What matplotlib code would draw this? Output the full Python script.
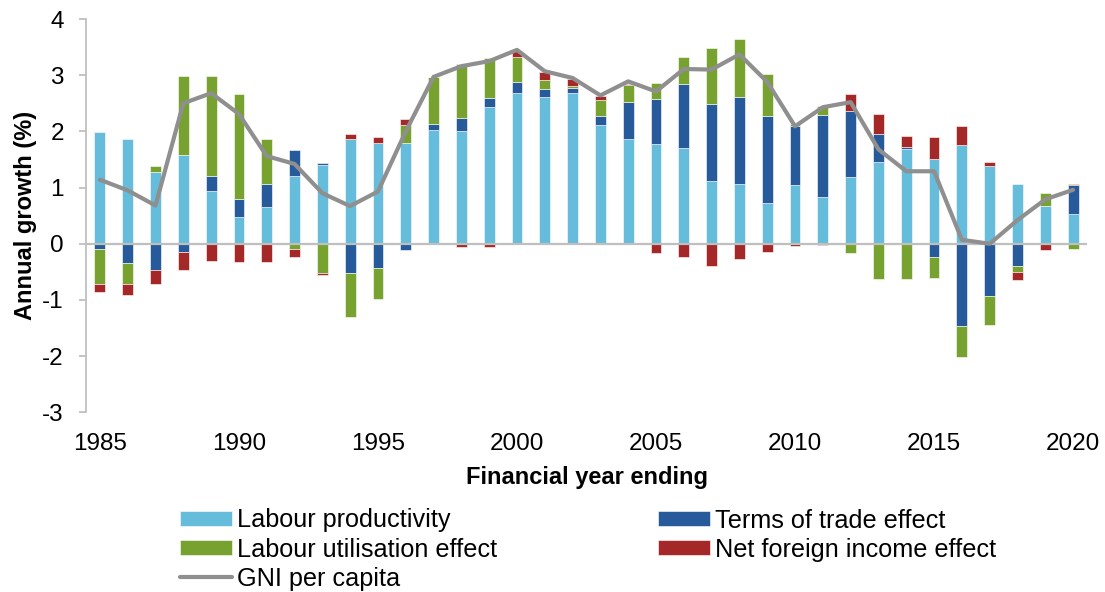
import numpy as np
import matplotlib
matplotlib.use('Agg')
import matplotlib.pyplot as plt

plt.rcParams['font.family'] = ['Liberation Sans', 'DejaVu Sans']
plt.rcParams['axes.unicode_minus'] = False

# Financial years
years = np.arange(1985, 2021)

# Contributions to GNI per capita growth (ppt)
labour_prod = [1.98, 1.87, 1.27, 1.58, 0.94, 0.48, 0.66, 1.20, 1.41, 1.86,
               1.80, 1.80, 2.02, 2.00, 2.44, 2.68, 2.62, 2.69, 2.12, 1.87,
               1.77, 1.70, 1.11, 1.06, 0.72, 1.05, 0.84, 1.18, 1.45, 1.68,
               1.51, 1.75, 1.38, 1.07, 0.68, 0.53]
terms_trade = [-0.09, -0.34, -0.46, -0.15, 0.26, 0.31, 0.40, 0.46, 0.03, -0.52,
               -0.43, -0.11, 0.11, 0.24, 0.15, 0.20, 0.14, 0.08, 0.15, 0.65,
               0.80, 1.14, 1.38, 1.55, 1.55, 1.04, 1.46, 1.19, 0.51, 0.04,
               -0.24, -1.47, -0.93, -0.40, 0.00, 0.52]
labour_util = [-0.63, -0.38, 0.12, 1.40, 1.78, 1.87, 0.81, -0.09, -0.52, -0.78,
               -0.55, 0.32, 0.83, 0.96, 0.71, 0.44, 0.15, 0.04, 0.29, 0.30,
               0.29, 0.49, 0.99, 1.03, 0.75, 0.05, 0.16, -0.17, -0.63, -0.62,
               -0.37, -0.55, -0.51, -0.10, 0.23, -0.10]
net_foreign = [-0.13, -0.20, -0.25, -0.32, -0.31, -0.33, -0.32, -0.15, -0.03, 0.10,
               0.10, 0.10, 0.00, -0.05, -0.05, 0.11, 0.14, 0.13, 0.07, 0.02,
               -0.17, -0.23, -0.39, -0.28, -0.14, -0.04, -0.02, 0.30, 0.35, 0.19,
               0.39, 0.34, 0.07, -0.15, -0.12, 0.01]
gni_pc = [1.14, 0.95, 0.68, 2.50, 2.68, 2.31, 1.56, 1.42, 0.90, 0.67,
          0.93, 2.00, 2.97, 3.16, 3.25, 3.45, 3.07, 2.95, 2.64, 2.89,
          2.71, 3.11, 3.10, 3.37, 2.88, 2.09, 2.43, 2.52, 1.68, 1.29,
          1.29, 0.07, 0.00, 0.42, 0.79, 0.96]

series = [
    ('Labour productivity', labour_prod, '#66BCDB'),
    ('Terms of trade effect', terms_trade, '#265A9B'),
    ('Labour utilisation effect', labour_util, '#78A22F'),
    ('Net foreign income effect', net_foreign, '#A52828'),
]

fig = plt.figure(figsize=(11.05, 5.92), dpi=100)
ax = fig.add_axes([86/1105, 1-412.3/592, 1001/1105, 393.3/592])

# stack positives up and negatives down, like excel does
pos = np.zeros(len(years))
neg = np.zeros(len(years))
bars = {}
for name, vals, col in series:
    v = np.array(vals)
    bottom = np.where(v >= 0, pos, neg)
    bars[name] = ax.bar(years, v, 0.39, bottom=bottom, color=col,
                        edgecolor='white', linewidth=0.4, zorder=2)
    pos = pos + np.clip(v, 0, None)
    neg = neg + np.clip(v, None, 0)

ax.axhline(0, color='#BFBFBF', lw=1.6, zorder=3)
line, = ax.plot(years, gni_pc, color='#8F8F8F', lw=3, zorder=4,
                solid_capstyle='round', solid_joinstyle='round')

ax.set_xlim(1984.5, 2020.5)
ax.set_ylim(-3, 4)
ax.set_yticks(range(-3, 5))
ax.set_xticks(range(1985, 2021, 5))
for s in ['top', 'right', 'bottom']:
    ax.spines[s].set_visible(False)
ax.spines['left'].set_color('#BFBFBF')
ax.spines['left'].set_linewidth(1.3)
ax.tick_params(axis='y', length=5, width=1.3, color='#BFBFBF',
               labelsize=17.5, pad=11)
ax.tick_params(axis='x', length=0, labelsize=17.5, pad=15)

ax.set_ylabel('Annual growth (%)', fontsize=17, fontweight='bold', labelpad=4)
ax.set_xlabel('Financial year ending', fontsize=17, fontweight='bold', labelpad=8)

handles = [bars['Labour productivity'], bars['Labour utilisation effect'], line,
           bars['Terms of trade effect'], bars['Net foreign income effect']]
labels = ['Labour productivity', 'Labour utilisation effect', 'GNI per capita',
          'Terms of trade effect', 'Net foreign income effect']
fig.legend(handles, labels, loc='upper left', ncol=2,
           bbox_to_anchor=(180/1105, 1-508.5/592), frameon=False,
           fontsize=18.2, borderpad=0, borderaxespad=0,
           handlelength=2.06, handleheight=0.51, handletextpad=0.2,
           labelspacing=0.2, columnspacing=6.35)

fig.savefig('out.png', dpi=100)
